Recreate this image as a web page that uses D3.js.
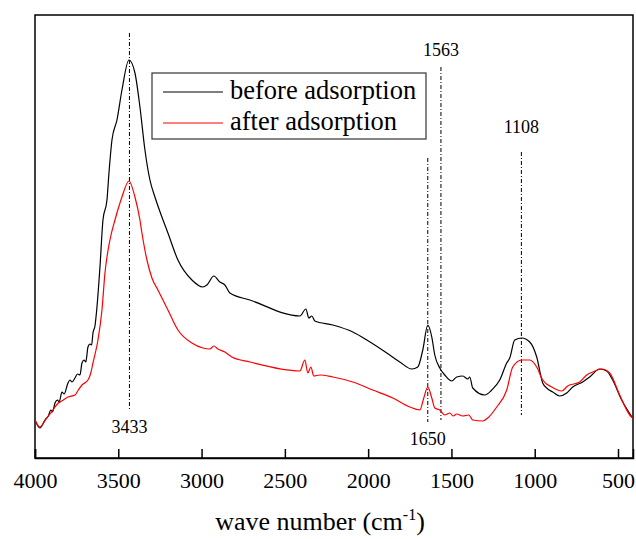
<!DOCTYPE html>
<html>
<head>
<meta charset="utf-8">
<script src="https://cdn.jsdelivr.net/npm/d3@7"></script>
<style>
  body { margin: 0; background: #fff; }
  svg text { font-family: "Liberation Serif", "Times New Roman", serif; fill: #000; }
</style>
</head>
<body>
<div id="chart"></div>
<script>
// wave numbers (cm-1) and absorbance (a.u.)
const beforeWave = [4000, 3970, 3940, 3920, 3905, 3895, 3880, 3865, 3855, 3838, 3825, 3802, 3790, 3778, 3760, 3745, 3730, 3718, 3705, 3695, 3682, 3670, 3660, 3652, 3640, 3628, 3610, 3592, 3568, 3556, 3538, 3508, 3478, 3436, 3400, 3370, 3340, 3310, 3280, 3238, 3202, 3142, 3058, 2992, 2968, 2926, 2890, 2860, 2830, 2710, 2410, 2374, 2356, 2338, 2320, 2212, 2092, 2008, 1888, 1810, 1738, 1702, 1672, 1642, 1618, 1600, 1570, 1540, 1498, 1468, 1432, 1402, 1390, 1372, 1300, 1258, 1210, 1168, 1150, 1120, 1078, 1030, 988, 952, 922, 892, 850, 808, 772, 712, 670, 610, 568, 532, 478, 412];
const beforeAbs = [0.38, 0.30, 0.38, 0.42, 0.48, 0.46, 0.55, 0.58, 0.56, 0.66, 0.64, 0.75, 0.78, 0.76, 0.80, 0.84, 0.83, 0.95, 0.98, 0.96, 1.11, 1.14, 1.13, 1.25, 1.32, 1.51, 1.91, 2.38, 2.58, 2.85, 3.18, 3.38, 3.68, 3.98, 3.85, 3.51, 3.08, 2.78, 2.61, 2.41, 2.25, 1.98, 1.78, 1.71, 1.73, 1.82, 1.76, 1.73, 1.65, 1.58, 1.42, 1.49, 1.40, 1.42, 1.37, 1.33, 1.26, 1.18, 1.05, 0.96, 0.89, 0.91, 1.08, 1.33, 1.21, 1.03, 0.90, 0.83, 0.77, 0.81, 0.82, 0.79, 0.81, 0.70, 0.63, 0.68, 0.78, 0.95, 1.00, 1.18, 1.20, 1.16, 1.01, 0.75, 0.69, 0.66, 0.62, 0.65, 0.71, 0.76, 0.81, 0.89, 0.87, 0.78, 0.58, 0.40];

const afterWave = [4000, 3970, 3930, 3905, 3880, 3860, 3840, 3802, 3760, 3740, 3718, 3682, 3665, 3652, 3622, 3598, 3580, 3550, 3520, 3490, 3478, 3436, 3400, 3370, 3358, 3328, 3298, 3262, 3202, 3142, 3058, 2992, 2950, 2926, 2902, 2860, 2818, 2710, 2410, 2380, 2362, 2344, 2326, 2290, 2212, 2092, 1972, 1852, 1750, 1690, 1666, 1642, 1618, 1600, 1570, 1540, 1510, 1490, 1468, 1432, 1396, 1372, 1312, 1282, 1228, 1168, 1132, 1078, 1030, 988, 952, 898, 838, 802, 730, 688, 652, 598, 550, 490, 430, 412];
const afterAbs = [0.38, 0.31, 0.40, 0.45, 0.51, 0.55, 0.57, 0.61, 0.63, 0.68, 0.73, 0.78, 0.85, 0.95, 1.18, 1.48, 1.85, 2.18, 2.38, 2.55, 2.61, 2.77, 2.61, 2.38, 2.25, 1.98, 1.80, 1.68, 1.48, 1.28, 1.15, 1.10, 1.09, 1.12, 1.09, 1.06, 1.01, 0.96, 0.87, 0.98, 0.85, 0.91, 0.82, 0.83, 0.81, 0.76, 0.68, 0.60, 0.51, 0.48, 0.60, 0.71, 0.60, 0.50, 0.48, 0.43, 0.45, 0.42, 0.44, 0.42, 0.43, 0.38, 0.37, 0.40, 0.51, 0.68, 0.91, 0.98, 0.98, 0.91, 0.78, 0.71, 0.67, 0.72, 0.76, 0.83, 0.86, 0.89, 0.85, 0.63, 0.43, 0.40];

const xTicks = [4000, 3500, 3000, 2500, 2000, 1500, 1000, 500];

// marked bands: line position, label, line extent (a.u.), label side
const bandPos = [3433, 1642, 1563, 1080];
const bandLabel = ['3433', '1650', '1563', '1108'];
const bandTop = [4.25, 3.00, 3.91, 3.06];
const bandBottom = [0.48, 0.36, 0.38, 0.43];
const bandSide = ['below', 'below', 'above', 'above'];

const seriesNames = ['before adsorption', 'after adsorption'];
const seriesColors = ['#000000', '#ff0000'];

const serif = '"Liberation Serif", "Times New Roman", serif';

const margin = { top: 15, right: 3, bottom: 81, left: 35 };
const width = 636 - margin.left - margin.right;
const height = 539 - margin.top - margin.bottom;

const svg = d3.select('#chart')
    .append('svg')
    .attr('width', 636)
    .attr('height', 539)
    .append('g')
    .attr('transform', `translate(${margin.left},${margin.top})`);

const x = d3.scaleLinear().domain([4000, 410]).range([0, width]);
const y = d3.scaleLinear().domain([0, 4.43]).range([height, 0]);

// frame
svg.append('rect')
    .attr('width', width)
    .attr('height', height)
    .attr('fill', 'none')
    .attr('stroke', '#000')
    .attr('stroke-width', 1.5);

// bottom axis with inward ticks
const xAxis = d3.axisBottom(x)
    .tickValues(xTicks)
    .tickSize(-9)
    .tickPadding(14)
    .tickFormat(d => `${d}`);

const gx = svg.append('g')
    .attr('transform', `translate(0,${height})`)
    .call(xAxis)
    .attr('font-family', serif)
    .attr('font-size', 22);
gx.select('.domain').attr('stroke-width', 1.5);
gx.selectAll('.tick line').attr('stroke-width', 1.5);
gx.selectAll('.tick text').attr('fill', '#000');

// axis title
const title = svg.append('text')
    .attr('x', 285)
    .attr('y', height + 72)
    .attr('text-anchor', 'middle')
    .style('font-size', '26px');
title.append('tspan').text('wave number (cm');
title.append('tspan').attr('dy', -10).style('font-size', '16px').text('-1');
title.append('tspan').attr('dy', 10).text(')');

// dash-dot marker lines
bandPos.forEach((w, i) => {
    svg.append('line')
        .attr('x1', x(w)).attr('x2', x(w))
        .attr('y1', y(bandTop[i])).attr('y2', y(bandBottom[i]))
        .attr('stroke', '#000')
        .attr('stroke-width', 1)
        .attr('stroke-dasharray', '4,2,1,2');
    svg.append('text')
        .attr('x', x(w))
        .attr('y', bandSide[i] === 'below' ? y(bandBottom[i]) + 23 : y(bandTop[i]) - (i === 2 ? 11 : 19))
        .attr('text-anchor', 'middle')
        .style('font-size', '18px')
        .text(bandLabel[i]);
});

// spectra
const line = d3.line()
    .x(d => x(d[0]))
    .y(d => y(d[1]))
    .curve(d3.curveMonotoneX);

const series = [
    d3.zip(beforeWave, beforeAbs),
    d3.zip(afterWave, afterAbs)
];

series.forEach((s, i) => {
    svg.append('path')
        .datum(s)
        .attr('fill', 'none')
        .attr('stroke', seriesColors[i])
        .attr('stroke-width', 1.2)
        .attr('d', line);
});

// legend
const legend = svg.append('g').attr('transform', 'translate(117,58)');
legend.append('rect')
    .attr('width', 274)
    .attr('height', 66)
    .attr('fill', '#fff')
    .attr('stroke', '#333')
    .attr('stroke-width', 1.2);
seriesNames.forEach((name, i) => {
    const ly = 19 + i * 31;
    legend.append('line')
        .attr('x1', 11).attr('x2', 71)
        .attr('y1', ly).attr('y2', ly)
        .attr('stroke', seriesColors[i])
        .attr('stroke-width', 1.2);
    legend.append('text')
        .attr('x', 78)
        .attr('y', ly + 7)
        .style('font-size', '26.5px')
        .text(name);
});
</script>
</body>
</html>
